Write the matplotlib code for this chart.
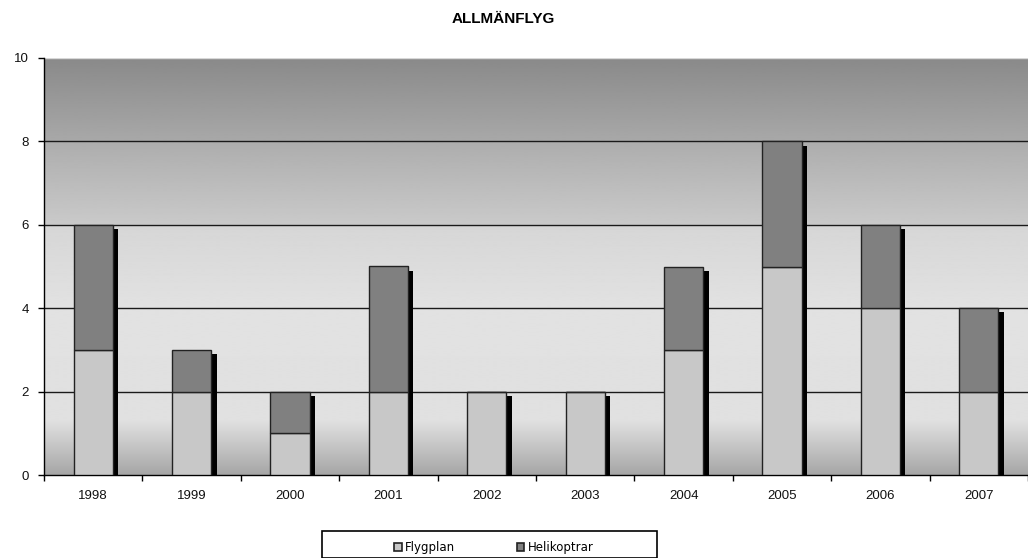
import numpy as np
import matplotlib
matplotlib.use("Agg")
import matplotlib.pyplot as plt
from matplotlib.patches import Rectangle, Patch
from matplotlib import font_manager

# Data
years = ["1998", "1999", "2000", "2001", "2002", "2003", "2004", "2005", "2006", "2007"]
flygplan = [3, 2, 1, 2, 2, 2, 3, 5, 4, 2]
helikoptrar = [3, 1, 1, 3, 0, 0, 2, 3, 2, 2]
yticks = [0, 2, 4, 6, 8, 10]
title = "ALLMÄNFLYG"
legend_labels = ["Flygplan", "Helikoptrar"]

available = {f.name for f in font_manager.fontManager.ttflist}
narrow = "Liberation Sans Narrow" if "Liberation Sans Narrow" in available else "Liberation Sans"
plt.rcParams["font.family"] = ["Liberation Sans", "DejaVu Sans"]

W, H = 1028, 558
fig = plt.figure(figsize=(W / 100, H / 100), dpi=100)
ax = fig.add_axes([44 / W, 1 - 475 / H, 1 - 44 / W, (475 - 58) / H])

x = np.arange(len(years))
ax.set_xlim(-0.5, len(years) - 0.5)
ax.set_ylim(0, 10)

# Banded grey background of the plot area
stops_v = [0, 1.3, 4.0, 5.98, 6.02, 7.98, 8.02, 10]
stops_g = [0.65, 0.88, 0.885, 0.84, 0.79, 0.68, 0.66, 0.54]
yy = np.linspace(0, 10, 800)
grad = np.interp(yy, stops_v, stops_g)[:, None]
ax.imshow(grad, extent=[-0.5, len(years) - 0.5, 0, 10], origin="lower",
          aspect="auto", cmap="gray", vmin=0, vmax=1, zorder=0,
          interpolation="bilinear")

# Horizontal gridlines
for v in yticks[1:-1]:
    ax.axhline(v, color="#1a1a1a", lw=1.0, zorder=1)

bw = 0.40
fly = np.array(flygplan)
hel = np.array(helikoptrar)
tot = fly + hel

# Drop shadow on the right of each stack
ax.bar(x + bw / 2, tot - 0.1, width=0.055, align="edge", color="black",
       linewidth=0, zorder=2)
ax.bar(x, fly, width=bw, color="#c8c8c8", edgecolor="#222222", lw=1.0, zorder=3)
ax.bar(x, hel, width=bw, bottom=fly, color="#808080", edgecolor="#222222",
       lw=1.0, zorder=3)

# Axes styling
for s in ["top", "right"]:
    ax.spines[s].set_visible(False)
ax.spines["left"].set_color("black")
ax.spines["bottom"].set_color("black")
ax.spines["left"].set_linewidth(1.0)
ax.spines["bottom"].set_linewidth(1.0)
ax.axhline(10, color="#d8d8d8", lw=1.0, zorder=1)

ax.set_yticks(yticks)
ax.set_yticklabels([str(v) for v in yticks], fontsize=9.5, color="#111111")
ax.set_xticks(x)
ax.set_xticklabels(years, fontsize=9.5, color="#111111")
ax.tick_params(axis="x", length=0, pad=11)
ax.set_xticks(np.arange(-0.5, len(years)), minor=True)
ax.tick_params(axis="x", which="minor", length=4, width=1, color="black", direction="out")
ax.tick_params(axis="y", length=4, width=1, color="black", pad=7)

fig.text(503 / W, 1 - 19 / H, title, ha="center", va="center",
         fontsize=11, fontweight="bold", family=[narrow, "DejaVu Sans"])

# Legend with its own frame
fig.patches.append(Rectangle((322 / W, 0), (657 - 322) / W, 1 - 531 / H,
                             transform=fig.transFigure, facecolor="white",
                             edgecolor="black", lw=1.2, zorder=5))
handles = [Patch(facecolor="#c8c8c8", edgecolor="#222222", lw=1.2),
           Patch(facecolor="#808080", edgecolor="#222222", lw=1.2)]
leg = fig.legend(handles, legend_labels, ncol=2, frameon=False,
                 loc="center", bbox_to_anchor=(494 / W, 1 - 548 / H),
                 handlelength=0.65, handleheight=0.65, handletextpad=0.3,
                 columnspacing=5.2, prop={"family": "DejaVu Sans", "size": 8.5})
leg.set_zorder(6)

fig.savefig("out.png", dpi=100)
